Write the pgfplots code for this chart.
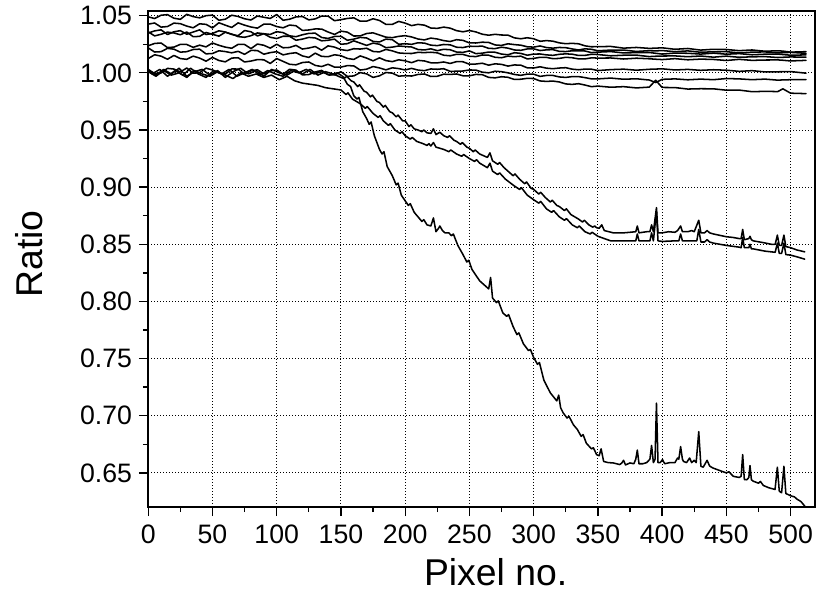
\documentclass[border=0pt]{standalone}
\usepackage{fontspec}
\setmainfont{Liberation Sans}
\usepackage{pgfplots}
\usepackage{pgfplotstable}
\pgfplotsset{compat=1.18}
\tikzset{curve/.style={black, solid, line width=1.15pt, line join=round, line cap=round, mark=none}}

\pgfplotstableread{
x a b c d e f g h
0 1.0490 1.0426 1.0348 1.0359 1.0237 1.0218 1.0125 1.0030
5 1.0475 1.0436 1.0367 1.0323 1.0257 1.0182 1.0158 0.9994
10 1.0504 1.0400 1.0376 1.0337 1.0261 1.0185 1.0146 0.9999
15 1.0509 1.0405 1.0335 1.0356 1.0221 1.0214 1.0119 1.0039
20 1.0478 1.0435 1.0359 1.0349 1.0225 1.0207 1.0152 1.0033
25 1.0468 1.0430 1.0369 1.0333 1.0249 1.0181 1.0125 1.0008
30 1.0512 1.0409 1.0338 1.0357 1.0248 1.0185 1.0118 1.0042
35 1.0492 1.0394 1.0357 1.0316 1.0223 1.0204 1.0146 0.9997
40 1.0481 1.0429 1.0376 1.0319 1.0242 1.0207 1.0129 1.0001
45 1.0500 1.0424 1.0335 1.0353 1.0227 1.0166 1.0102 1.0041
50 1.0505 1.0393 1.0344 1.0337 1.0261 1.0169 1.0135 1.0025
55 1.0460 1.0438 1.0368 1.0321 1.0241 1.0193 1.0108 1.0000
60 1.0469 1.0417 1.0357 1.0355 1.0225 1.0186 1.0096 0.9989
65 1.0504 1.0397 1.0336 1.0339 1.0215 1.0175 1.0129 1.0034
70 1.0493 1.0437 1.0325 1.0317 1.0249 1.0188 1.0132 1.0033
75 1.0473 1.0417 1.0370 1.0311 1.0248 1.0162 1.0095 0.9988
80 1.0462 1.0401 1.0359 1.0325 1.0212 1.0196 1.0103 1.0017
85 1.0497 1.0391 1.0323 1.0349 1.0252 1.0195 1.0116 1.0027
90 1.0486 1.0426 1.0342 1.0342 1.0241 1.0163 1.0114 0.9991
95 1.0476 1.0426 1.0336 1.0311 1.0216 1.0177 1.0082 1.0016
100 1.0510 1.0405 1.0360 1.0300 1.0250 1.0185 1.0125 1.0025
105 1.0460 1.0394 1.0352 1.0320 1.0219 1.0157 1.0100 0.9988
110 1.0469 1.0418 1.0324 1.0320 1.0222 1.0169 1.0075 1.0031
115 1.0489 1.0412 1.0316 1.0285 1.0240 1.0176 1.0070 1.0024
120 1.0493 1.0371 1.0333 1.0295 1.0208 1.0148 1.0090 0.9982
125 1.0463 1.0375 1.0345 1.0310 1.0217 1.0135 1.0095 0.9985
130 1.0472 1.0384 1.0347 1.0305 1.0230 1.0172 1.0065 1.0008
135 1.0497 1.0383 1.0309 1.0280 1.0198 1.0144 1.0055 1.0021
140 1.0496 1.0357 1.0301 1.0285 1.0236 1.0141 1.0075 0.9984
145 1.0456 1.0336 1.0318 1.0295 1.0225 1.0158 1.0050 0.9982
150 1.0465 1.0365 1.0320 1.0250 1.0203 1.0150 1.0050 1.0010
155 1.0476 1.0356 1.0285 1.0255 1.0195 1.0126 1.0063 0.9969
160 1.0481 1.0322 1.0295 1.0280 1.0211 1.0117 1.0061 0.9973
165 1.0452 1.0323 1.0310 1.0260 1.0208 1.0148 1.0024 1.0002
170 1.0452 1.0344 1.0305 1.0240 1.0215 1.0129 1.0032 0.9991
175 1.0473 1.0350 1.0275 1.0260 1.0187 1.0105 1.0055 0.9960
180 1.0458 1.0331 1.0270 1.0250 1.0183 1.0131 1.0043 0.9974
185 1.0424 1.0312 1.0295 1.0220 1.0205 1.0107 1.0026 1.0003
190 1.0424 1.0308 1.0290 1.0225 1.0192 1.0098 1.0044 0.9997
195 1.0450 1.0319 1.0250 1.0235 1.0174 1.0114 1.0037 0.9971
200 1.0435 1.0325 1.0255 1.0230 1.0170 1.0105 1.0025 0.9975
205 1.0413 1.0314 1.0249 1.0226 1.0169 1.0089 1.0039 0.9972
210 1.0424 1.0296 1.0263 1.0204 1.0179 1.0109 1.0024 0.9986
215 1.0417 1.0288 1.0260 1.0200 1.0177 1.0104 1.0019 0.9990
220 1.0392 1.0304 1.0242 1.0210 1.0180 1.0088 1.0034 0.9968
225 1.0389 1.0296 1.0238 1.0194 1.0175 1.0087 1.0031 0.9970
230 1.0400 1.0282 1.0248 1.0206 1.0154 1.0095 1.0036 0.9988
235 1.0391 1.0274 1.0245 1.0202 1.0149 1.0082 1.0013 0.9986
240 1.0369 1.0290 1.0224 1.0182 1.0162 1.0098 1.0014 0.9990
245 1.0359 1.0284 1.0221 1.0179 1.0161 1.0097 1.0016 0.9974
250 1.0370 1.0262 1.0233 1.0192 1.0145 1.0075 1.0025 0.9974
255 1.0358 1.0261 1.0231 1.0168 1.0142 1.0077 1.0024 0.9986
260 1.0338 1.0268 1.0234 1.0172 1.0156 1.0084 1.0006 0.9984
265 1.0329 1.0266 1.0214 1.0182 1.0154 1.0067 1.0000 0.9960
270 1.0337 1.0244 1.0212 1.0180 1.0136 1.0079 1.0014 0.9956
275 1.0331 1.0240 1.0224 1.0164 1.0132 1.0074 1.0010 0.9966
280 1.0330 1.0254 1.0216 1.0158 1.0146 1.0059 1.0000 0.9961
285 1.0306 1.0247 1.0200 1.0176 1.0141 1.0069 0.9986 0.9942
290 1.0298 1.0242 1.0197 1.0170 1.0146 1.0067 0.9978 0.9944
295 1.0307 1.0228 1.0209 1.0154 1.0122 1.0044 0.9989 0.9952
300 1.0298 1.0225 1.0210 1.0164 1.0126 1.0042 0.9988 0.9950
305 1.0276 1.0235 1.0195 1.0165 1.0136 1.0053 0.9969 0.9929
310 1.0282 1.0221 1.0201 1.0157 1.0135 1.0041 0.9977 0.9925
315 1.0277 1.0216 1.0203 1.0153 1.0124 1.0036 0.9977 0.9928
320 1.0262 1.0222 1.0188 1.0162 1.0126 1.0042 0.9964 0.9920
325 1.0255 1.0220 1.0186 1.0166 1.0136 1.0045 0.9960 0.9903
330 1.0258 1.0209 1.0193 1.0163 1.0132 1.0032 0.9967 0.9899
335 1.0254 1.0200 1.0193 1.0152 1.0122 1.0027 0.9967 0.9905
340 1.0236 1.0210 1.0191 1.0153 1.0122 1.0033 0.9958 0.9893
345 1.0228 1.0206 1.0177 1.0162 1.0131 1.0032 0.9947 0.9879
350 1.0229 1.0193 1.0181 1.0160 1.0129 1.0020 0.9947 0.9884
360 1.0231 1.0199 1.0186 1.0149 1.0130 1.0028 0.9954 0.9874
370 1.0216 1.0199 1.0174 1.0154 1.0121 1.0032 0.9944 0.9879
380 1.0222 1.0187 1.0177 1.0155 1.0128 1.0023 0.9948 0.9868
390 1.0214 1.0194 1.0178 1.0142 1.0123 1.0031 0.9937 0.9875
395 1.0216 1.0192 1.0171 1.0145 1.0119 1.0033 0.9915 0.9935
400 1.0219 1.0195 1.0164 1.0147 1.0116 1.0035 0.9943 0.9872
410 1.0206 1.0185 1.0173 1.0148 1.0124 1.0025 0.9947 0.9871
420 1.0213 1.0192 1.0171 1.0141 1.0114 1.0030 0.9939 0.9858
430 1.0199 1.0180 1.0164 1.0147 1.0120 1.0022 0.9945 0.9861
440 1.0206 1.0184 1.0172 1.0137 1.0117 1.0027 0.9940 0.9860
450 1.0204 1.0185 1.0163 1.0146 1.0108 1.0023 0.9950 0.9848
460 1.0194 1.0174 1.0168 1.0136 1.0118 1.0013 0.9947 0.9849
470 1.0200 1.0181 1.0158 1.0140 1.0109 1.0019 0.9940 0.9835
480 1.0189 1.0183 1.0163 1.0142 1.0112 1.0008 0.9945 0.9838
490 1.0193 1.0174 1.0164 1.0134 1.0113 1.0009 0.9936 0.9836
494 1.0190 1.0176 1.0160 1.0136 1.0110 1.0010 0.9938 0.9860
500 1.0181 1.0179 1.0154 1.0139 1.0104 1.0011 0.9940 0.9822
512 1.0185 1.0171 1.0157 1.0137 1.0109 0.9997 0.9941 0.9818
}\flats

\begin{document}
\begin{tikzpicture}
\begin{axis}[
  at={(0,0)}, anchor=south west,
  scale only axis,
  width=500.25pt, height=372pt,
  xmin=0, xmax=519, ymin=0.6203, ymax=1.0541,
  xtick={0,50,...,500},
  ytick={0.65,0.70,...,1.051},
  minor x tick num=1, minor y tick num=1,
  tick pos=left, tick align=outside,
  major tick length=7pt, minor tick length=4pt,
  every tick/.style={black, line width=1pt},
  axis line style={black, line width=1.3pt},
  grid=major,
  major grid style={black, line width=0.65pt, dash pattern=on 0.7pt off 1.55pt},
  /pgf/number format/.cd, fixed, fixed zerofill, precision=2, assume math mode=true,
  /pgfplots/.cd,
  xticklabel style={/pgf/number format/precision=0, /pgf/number format/fixed zerofill=false},
  tick label style={font=\fontsize{20}{24}\selectfont, inner sep=0pt},
  yticklabel style={xshift=-5pt},
  xticklabel style={yshift=-6pt},
  xlabel={Pixel no.},
  ylabel={Ratio},
  label style={font=\fontsize{28}{32}\selectfont},
  x label style={at={([yshift=-59.25pt]axis description cs:0.521,0)}, anchor=base},
  y label style={at={([xshift=-79pt]axis description cs:0,0.51)}, anchor=base, rotate=0},
]
\addplot[curve] table[x=x, y=a] {\flats};
\addplot[curve] table[x=x, y=b] {\flats};
\addplot[curve] table[x=x, y=c] {\flats};
\addplot[curve] table[x=x, y=d] {\flats};
\addplot[curve] table[x=x, y=e] {\flats};
\addplot[curve] table[x=x, y=f] {\flats};
\addplot[curve] table[x=x, y=g] {\flats};
\addplot[curve] table[x=x, y=h] {\flats};
% steep curve
\addplot[curve] coordinates {(0,1.002)(6,0.998)(12,1.003)(18,0.999)(24,1.004)(30,0.997)(36,1.001)(42,1.003)(48,0.998)(54,1.002)(60,0.996)(66,1.001)(72,1.004)(78,0.999)(84,1.002)(90,0.997)(96,1.003)(102,1.000)(108,0.998)(114,1.002)(120,0.999)(126,1.003)(132,0.998)(138,1.001)(144,0.999)(150,0.996)(152.5,0.995)(155,0.990)(157.5,0.988)(160,0.980)(162.5,0.977)(164,0.9785)(167,0.966)(170,0.960)(172,0.955)(173.5,0.957)(176,0.945)(180,0.933)(182,0.929)(183.5,0.931)(186,0.918)(190,0.910)(193,0.902)(194.5,0.9035)(197,0.893)(200,0.888)(202.5,0.884)(204,0.8855)(207,0.878)(210,0.874)(213,0.870)(214.5,0.8715)(217,0.867)(220,0.866)(222,0.873)(224,0.861)(226,0.864)(227,0.866)(229,0.862)(231,0.860)(234,0.860)(236,0.8575)(237.5,0.859)(241,0.849)(245,0.841)(248,0.8345)(249.5,0.836)(252,0.828)(255,0.823)(258,0.818)(263,0.813)(265,0.811)(266.5,0.821)(268,0.803)(271,0.799)(272.5,0.8005)(276,0.790)(279,0.787)(280.5,0.7885)(284,0.778)(287,0.771)(288.5,0.7725)(292,0.763)(296,0.757)(297.5,0.758)(300,0.751)(303,0.745)(304.5,0.7465)(308,0.731)(313,0.720)(318,0.713)(319.5,0.718)(321,0.707)(323,0.7025)(326,0.698)(327.5,0.6995)(331,0.692)(334,0.688)(337,0.682)(338.5,0.6835)(341,0.676)(345,0.671)(346.5,0.672)(349,0.666)(351,0.665)(352.5,0.671)(354.5,0.660)(358,0.659)(362,0.6587)(367,0.6573)(368.5,0.6585)(370,0.661)(371.5,0.657)(375,0.6587)(378,0.658)(379.5,0.662)(380.7,0.670)(382,0.658)(385,0.658)(388,0.659)(390.5,0.662)(391.8,0.674)(393.2,0.659)(394.5,0.662)(395.6,0.711)(396.8,0.659)(398.5,0.659)(400.3,0.6616)(402,0.658)(406,0.659)(410,0.659)(412,0.663)(413,0.662)(414.4,0.673)(415.8,0.662)(416.7,0.660)(419,0.659)(421.4,0.663)(423,0.659)(425,0.661)(426.5,0.659)(428.5,0.686)(430.2,0.6558)(432,0.655)(434,0.659)(435,0.661)(437,0.656)(439.3,0.6544)(445,0.652)(450,0.650)(452,0.651)(455.4,0.647)(460,0.646)(461.5,0.647)(462.7,0.666)(464,0.6442)(466,0.644)(467.5,0.646)(468.4,0.6564)(469.5,0.644)(471,0.6427)(475,0.641)(476.5,0.6425)(478.8,0.639)(483,0.637)(487.9,0.6355)(489.7,0.655)(491.2,0.634)(493,0.6326)(494.8,0.6558)(496.3,0.632)(500,0.630)(503,0.629)(505,0.627)(508,0.625)(511,0.621)};
% upper of the pair
\addplot[curve] coordinates {(3,0.999)(9,1.003)(15,0.997)(21,1.002)(27,0.998)(33,1.004)(39,0.999)(45,0.996)(51,1.002)(57,0.999)(63,1.003)(69,0.997)(75,1.000)(81,1.003)(87,0.998)(93,1.002)(99,0.999)(105,0.997)(111,1.002)(117,1.000)(123,1.003)(129,0.999)(135,1.001)(141,0.998)(147,1.000)(150,0.998)(153,0.9955)(154.5,0.997)(158,0.993)(160,0.992)(163,0.988)(164.5,0.9895)(168,0.984)(170,0.983)(173,0.979)(174.5,0.9805)(178,0.975)(180,0.974)(183,0.970)(184.5,0.9715)(188,0.966)(190,0.965)(193,0.9615)(194.5,0.963)(198,0.958)(200,0.958)(203,0.953)(204.5,0.9545)(207,0.951)(210,0.950)(213,0.9485)(214.5,0.950)(217,0.9475)(220,0.947)(222,0.951)(224,0.946)(227,0.948)(230,0.945)(233,0.9435)(234.5,0.945)(238,0.941)(240,0.940)(243,0.9375)(244.5,0.939)(248,0.935)(250,0.934)(253,0.931)(254.5,0.9325)(258,0.929)(260,0.928)(264,0.926)(266,0.930)(268,0.923)(272,0.920)(273.5,0.9215)(277,0.917)(280,0.914)(284,0.910)(285.5,0.9115)(289,0.907)(293,0.903)(294.5,0.9045)(298,0.899)(300,0.898)(304,0.894)(305.5,0.8955)(309,0.891)(313,0.887)(314.5,0.8885)(318,0.884)(320,0.883)(324,0.8795)(325.5,0.881)(329,0.876)(335,0.872)(338,0.8695)(339.5,0.871)(343,0.867)(346,0.865)(347.5,0.866)(349,0.8645)(351,0.864)(353,0.867)(355,0.862)(362,0.860)(370,0.860)(375,0.8605)(379.5,0.861)(380.7,0.866)(382,0.860)(388,0.861)(390.5,0.861)(391.8,0.867)(393.2,0.861)(395.6,0.882)(396.8,0.860)(400,0.860)(405,0.861)(410,0.8605)(412,0.862)(414.4,0.866)(415.8,0.861)(420,0.861)(423,0.862)(425,0.861)(428.5,0.871)(430.2,0.860)(433,0.860)(435,0.862)(437,0.860)(440,0.859)(450,0.8566)(455,0.856)(460,0.855)(461.5,0.855)(462.7,0.863)(464,0.854)(467.5,0.855)(468.4,0.857)(469.5,0.854)(471,0.853)(479,0.8514)(485,0.850)(488,0.850)(489.7,0.858)(491.2,0.849)(493,0.849)(494.8,0.858)(496.3,0.848)(500,0.847)(505,0.845)(511,0.8434)};
% lower of the pair
\addplot[curve] coordinates {(0,1.001)(6,0.997)(12,1.002)(18,0.998)(24,1.000)(30,0.996)(36,1.002)(42,0.999)(48,0.997)(54,1.001)(60,0.998)(66,0.995)(72,1.000)(78,0.997)(84,0.999)(90,0.996)(96,0.998)(102,0.994)(108,0.997)(114,0.993)(120,0.991)(126,0.990)(132,0.989)(138,0.987)(144,0.986)(150,0.985)(154,0.981)(155.5,0.9825)(159,0.977)(165,0.973)(169,0.969)(170.5,0.9705)(175,0.9645)(179,0.961)(180.5,0.9625)(183,0.958)(187,0.954)(188.5,0.9555)(192,0.950)(196,0.947)(197.5,0.9485)(200,0.945)(204,0.942)(205.5,0.9435)(209,0.940)(214,0.938)(217,0.9365)(218.5,0.938)(220,0.936)(222,0.939)(224,0.935)(230,0.933)(234,0.931)(235.5,0.9325)(240,0.929)(244,0.927)(245.5,0.9285)(250,0.925)(254,0.9225)(255.5,0.924)(258,0.921)(264,0.917)(266,0.921)(268,0.914)(272,0.911)(273.5,0.9125)(278,0.907)(285,0.901)(289,0.898)(290.5,0.8995)(295,0.893)(300,0.889)(304,0.886)(305.5,0.8875)(310,0.881)(314,0.878)(315.5,0.8795)(320,0.874)(324,0.871)(325.5,0.8725)(330,0.867)(334,0.8645)(335.5,0.866)(340,0.861)(344,0.859)(345.5,0.8605)(350,0.857)(360,0.853)(370,0.853)(379.5,0.853)(380.7,0.859)(382,0.853)(390.5,0.853)(391.8,0.860)(393.2,0.853)(395.6,0.879)(396.8,0.853)(400,0.8525)(410,0.853)(413,0.853)(414.4,0.859)(415.8,0.853)(420,0.853)(427,0.853)(428.5,0.863)(430.2,0.852)(433,0.852)(435,0.854)(437,0.852)(440,0.851)(450,0.849)(460,0.8475)(461.5,0.847)(462.7,0.856)(464,0.847)(467.5,0.847)(468.4,0.850)(469.5,0.846)(471,0.846)(480,0.844)(488,0.843)(489.7,0.851)(491.2,0.842)(493,0.842)(494.8,0.851)(496.3,0.841)(500,0.8405)(505,0.839)(511,0.837)};
\end{axis}
\pgfresetboundingbox
\path (-111.2pt,-67.5pt) rectangle (501pt,380.25pt);
\end{tikzpicture}
\end{document}
